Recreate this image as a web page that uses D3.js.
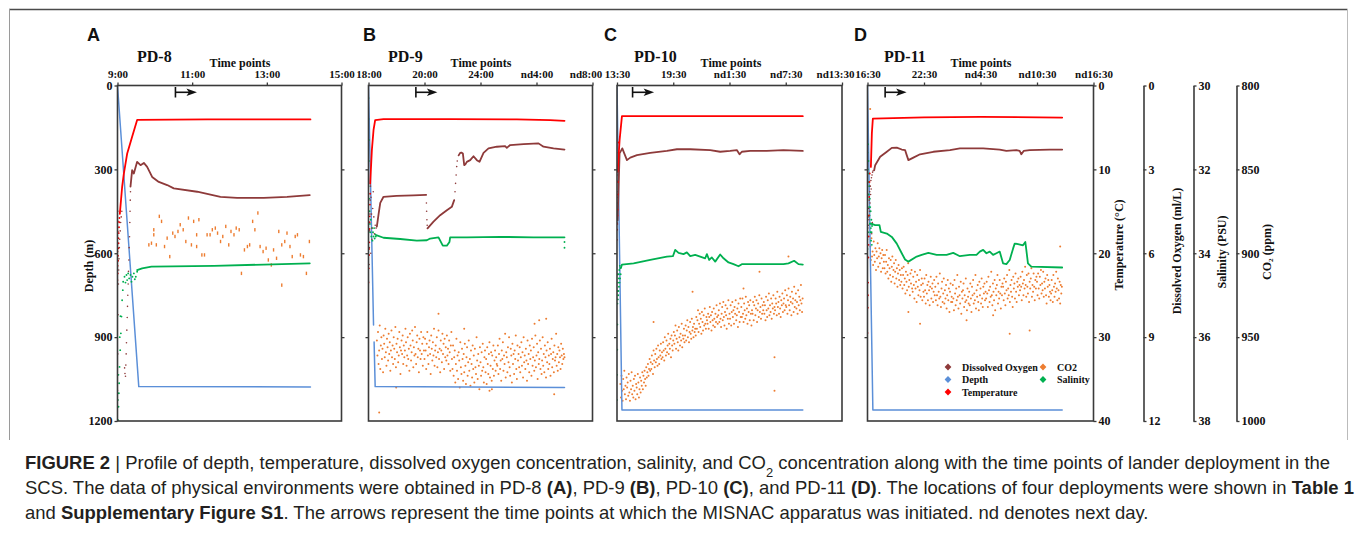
<!DOCTYPE html>
<html>
<head>
<meta charset="utf-8">
<script src="https://cdn.jsdelivr.net/npm/d3@7"></script>
<style>
  html, body { margin: 0; padding: 0; background: #fff; }
  svg { display: block; }
</style>
</head>
<body>
<svg id="chart" width="1357" height="542"></svg>
<script>
// ---------- Axis tick values ----------
const depthTicks = [0, 300, 600, 900, 1200];
const tempTicks = [0, 10, 20, 30, 40];
const oxygenTicks = [0, 3, 6, 9, 12];
const salinityTicks = [30, 32, 34, 36, 38];
const co2Ticks = [800, 850, 900, 950, 1000];

// Time-axis labels (x values below are in label-step units)
const pd8Ticks = ["9:00", "11:00", "13:00", "15:00"];
const pd9Ticks = ["18:00", "20:00", "24:00", "nd4:00", "nd8:00"];
const pd10Ticks = ["13:30", "19:30", "nd1:30", "nd7:30", "nd13:30"];
const pd11Ticks = ["16:30", "22:30", "nd4:30", "nd10:30", "nd16:30"];

// Time at which the MISNAC apparatus was started (label-step units)
const arrowTimes = [0.776, 0.846, 0.277, 0.312];

// ---------- PD-8 ----------
const pd8Depth = [[0, 0], [0.285, 1077], [2.584, 1078]];
const pd8Temp = [[0.031, 15.3], [0.062, 12.1], [0.085, 10.5], [0.13, 8.1], [0.196, 6.1], [0.263, 4.1], [1.2, 4.05], [2.584, 4.05]];
const pd8TempDots = [[0.0, 23.2], [0.002, 21.5], [0.004, 22.4], [0.006, 20.3], [0.008, 20.9], [0.01, 19.4], [0.012, 18.2], [0.014, 18.8], [0.017, 17.6], [0.02, 16.9], [0.023, 16.3], [0.026, 15.8], [0.0, 19.8], [0.003, 17.4], [0.005, 16.2], [0.001, 15.0]];
const pd8Oxygen = [[0.174, 3.62], [0.196, 3.03], [0.219, 3.15], [0.263, 2.73], [0.308, 2.85], [0.353, 2.77], [0.397, 2.91], [0.464, 3.27], [0.553, 3.45], [0.665, 3.56], [0.754, 3.68], [1.067, 3.80], [1.379, 3.98], [1.602, 4.02], [1.959, 4.02], [2.271, 3.98], [2.575, 3.92]];
const pd8OxygenDots = [[0.0, 10.9], [0.004, 9.6], [0.008, 8.2], [0.012, 7.1], [0.016, 6.6], [0.02, 6.2], [0.025, 5.8], [0.03, 5.5], [0.036, 5.2], [0.042, 4.9], [0.05, 4.7], [0.058, 4.5], [0.095, 10.1], [0.1, 10.3], [0.107, 10.4], [0.112, 10.0], [0.116, 9.6], [0.12, 9.2], [0.125, 8.75], [0.13, 8.3], [0.134, 7.9], [0.138, 7.5], [0.143, 7.1], [0.147, 6.65], [0.152, 6.24], [0.156, 5.8], [0.161, 5.41], [0.165, 4.9], [0.168, 4.5], [0.171, 4.1], [0.174, 3.8]];
const pd8Salinity = [[0.263, 34.40], [0.33, 34.36], [0.455, 34.32], [1.29, 34.30], [1.959, 34.27], [2.575, 34.24]];
const pd8SalinityDots = [[0.076, 34.68], [0.094, 34.56], [0.107, 34.70], [0.12, 34.52], [0.129, 34.64], [0.143, 34.48], [0.156, 34.60], [0.174, 34.52], [0.187, 34.68], [0.2, 34.56], [0.219, 34.48], [0.232, 34.62], [0.245, 34.56], [0.263, 34.44], [0.071, 34.88], [0.062, 35.12], [0.053, 35.51], [0.045, 35.91], [0.036, 36.31], [0.027, 36.71], [0.022, 37.10], [0.018, 37.34], [0.013, 37.66], [0.009, 37.98], [0.005, 37.5], [0.012, 36.9], [0.03, 36.0], [0.04, 35.5]];
const pd8Co2 = [[0.42, 895], [0.455, 894], [0.486, 886], [0.486, 889], [0.52, 895], [0.56, 878], [0.59, 881], [0.63, 896], [0.665, 891], [0.70, 902], [0.74, 888], [0.77, 890], [0.81, 887], [0.84, 883], [0.88, 886], [0.915, 893], [0.95, 879], [0.99, 895], [1.02, 881], [1.06, 889], [1.06, 896], [1.09, 880], [1.13, 901], [1.165, 901], [1.20, 889], [1.24, 889], [1.27, 886], [1.31, 885], [1.34, 888], [1.38, 893], [1.41, 890], [1.45, 884], [1.49, 895], [1.52, 887], [1.56, 889], [1.59, 885], [1.63, 886], [1.66, 912], [1.70, 898], [1.74, 896], [1.77, 895], [1.81, 881], [1.84, 886], [1.88, 876], [1.91, 896], [1.95, 899], [1.99, 897], [2.02, 904], [2.06, 907], [2.09, 898], [2.13, 903], [2.16, 887], [2.20, 895], [2.20, 919], [2.24, 893], [2.27, 888], [2.31, 896], [2.34, 902], [2.38, 890], [2.41, 889], [2.45, 901], [2.49, 902], [2.53, 912], [2.57, 893]];

// ---------- PD-9 ----------
const pd9Depth = [[0, 0], [0.09, 857], null, [0.10, 917], [0.119, 1077], [3.5, 1080]];
const pd9Temp = [[0.03, 11.7], [0.06, 7.7], [0.09, 5.3], [0.119, 4.13], [0.268, 4.01], [1.459, 4.01], [2.649, 4.05], [3.244, 4.13], [3.50, 4.21]];
const pd9TempDots = [[0.0, 23.5], [0.005, 21.8], [0.01, 20.2], [0.014, 18.7], [0.018, 17.1], [0.022, 15.6], [0.026, 14.2], [0.03, 12.9], [0.008, 19.5], [0.02, 16.3]];
const pd9Oxygen = [[0.149, 5.05], [0.18, 4.6], [0.21, 4.2], [0.268, 3.98], [0.5, 3.95], [0.8, 3.93], [1.03, 3.91], null, [1.054, 5.11], [1.161, 4.87], [1.28, 4.64], [1.399, 4.46], [1.488, 4.34], [1.53, 4.10], null, [1.61, 2.5], [1.637, 2.41], [1.66, 2.40], [1.685, 2.43], [1.709, 2.85], [1.73, 2.82], [1.756, 2.73], [1.816, 2.67], [1.875, 2.53], [1.935, 2.67], [1.982, 2.73], [2.054, 2.41], [2.143, 2.25], [2.292, 2.19], [2.44, 2.17], [2.47, 2.23], [2.53, 2.13], [2.768, 2.10], [3.036, 2.07], [3.125, 2.19], [3.304, 2.25], [3.50, 2.29]];
const pd9OxygenDots = [[0.0, 7.0], [0.01, 6.4], [0.015, 5.8], [0.02, 5.2], [0.025, 4.6], [0.03, 4.1], [0.035, 3.6], [0.045, 4.0], [0.055, 4.6], [0.065, 5.1], [0.075, 4.4], [0.085, 3.8], [0.095, 4.7], [0.105, 5.3], [0.12, 5.0], [0.135, 5.1], [0.04, 6.0], [0.06, 5.5], [1.034, 4.2], [1.038, 4.5], [1.043, 4.8], [1.048, 5.0], [1.545, 3.8], [1.555, 3.5], [1.565, 3.2], [1.575, 2.9], [1.585, 2.7]];
const pd9Salinity = [[0.137, 33.57], [0.268, 33.63], [0.566, 33.66], [0.863, 33.70], [1.042, 33.69], [1.101, 33.65], [1.25, 33.62], [1.292, 33.73], [1.327, 33.82], [1.399, 33.82], [1.446, 33.73], [1.458, 33.62], [1.756, 33.62], [2.352, 33.61], [2.947, 33.62], [3.50, 33.62]];
const pd9SalinityDots = [[0.0, 30.3], [0.0, 30.8], [0.005, 31.3], [0.005, 31.8], [0.0, 32.4], [0.01, 32.7], [0.02, 33.0], [0.025, 33.3], [0.03, 33.5], [0.04, 33.2], [0.05, 33.6], [0.06, 33.4], [0.07, 33.7], [0.08, 33.5], [0.09, 33.6], [0.1, 33.4], [0.11, 33.65], [0.12, 33.55], [0.13, 33.6], [3.5, 33.73], [3.5, 33.87]];
// CO2 logged every 0.01 label steps from pd9Co2Start
const pd9Co2Start = 0.15, pd9Co2Step = 0.01;
const pd9Co2 = [
  952, 961, 947, 966, 958, 943, 969, 955, 950, 963, 957, 971, 949, 954, 962, 945, 959, 967, 951, 956,
  964, 948, 960, 953, 970, 958, 946, 962, 955, 966, 950, 957, 963, 944, 968, 954, 959, 951, 965, 961,
  947, 956, 972, 958, 952, 960, 949, 966, 955, 962, 958, 945, 953, 967, 961, 950, 963, 957, 970, 948,
  955, 964, 959, 946, 952, 968, 956, 961, 944, 960, 966, 953, 949, 962, 957, 971, 951, 958, 963, 947,
  960, 954, 967, 950, 958,
  963, 951, 958, 969, 954, 947, 961, 966, 956, 952, 960, 972, 949, 957, 964, 953, 961, 945, 967, 958,
  955, 962, 950, 968, 959, 946, 963, 957, 971, 952, 958, 965, 948, 960, 954, 969, 951, 962, 956, 964,
  949, 961, 957, 966, 952, 959, 970, 955, 947, 963,
  969, 955, 973, 962, 958, 977, 966, 951, 970, 961, 975, 959, 964, 980, 953, 968, 972, 957, 963, 976,
  960, 971, 954, 967, 978, 962, 956, 973, 965, 952, 970, 963, 979, 958, 966, 974, 955, 969, 961, 977,
  957, 968, 972, 950, 964, 975, 960, 967, 981, 956, 965, 973, 959, 970, 954, 968, 977, 962, 958, 971,
  963, 978, 956, 966, 972, 960, 953, 974, 967, 959, 976, 961, 969, 955, 973, 964, 958, 970, 962, 966,
  967, 955, 972, 960, 951, 969, 964, 976, 958, 963, 953, 970, 961, 966, 948, 974, 959, 962, 971, 956,
  965, 950, 968, 973, 957, 961, 977, 954, 966, 960, 972, 958, 963, 949, 969, 975, 955, 964, 960, 968,
  956, 971, 962, 953, 967, 959, 974, 950, 965, 961, 969, 957, 964, 976, 952, 966, 960, 971, 955, 963,
  958, 973, 951, 967, 962, 956, 970, 964, 949, 968, 961, 954, 975, 959, 966, 963, 952, 969, 957, 972,
  964, 950, 967, 960, 971, 955, 962, 974, 958, 965, 953, 969, 961, 966, 957, 973, 960, 951, 968, 963,
  959, 971, 955, 964, 962, 948, 967, 960, 970, 956, 965, 958, 962, 969, 954, 961, 966, 957, 963, 960,
  962];
const pd9Co2Extra = [[0.191, 995], [0.494, 980], [1.25, 936], [2.161, 982], [2.203, 981], [3.048, 940], [3.173, 939], [3.316, 984], [1.709, 945], [2.965, 942]];

// ---------- PD-10 ----------
const pd10Depth = [[0, 0], [0.088, 1161], [3.303, 1161]];
const pd10Temp = [[0.011, 10.29], [0.046, 6.52], [0.088, 3.66], [3.303, 3.66]];
const pd10TempDots = [[0.0, 18.4], [0.005, 16.5], [0.01, 14.8], [0.013, 13.0], [0.016, 11.5], [0.02, 9.5], [0.024, 8.0], [0.028, 6.8], [0.003, 17.2], [0.008, 15.5]];
const pd10Oxygen = [[0.011, 4.82], [0.046, 2.43], [0.094, 2.25], [0.129, 2.43], [0.177, 2.67], [0.236, 2.58], [0.354, 2.49], [0.591, 2.41], [0.887, 2.34], [1.065, 2.28], [1.302, 2.28], [1.657, 2.31], [1.834, 2.37], [2.012, 2.34], [2.13, 2.31], [2.178, 2.46], [2.219, 2.37], [2.367, 2.34], [2.663, 2.34], [2.959, 2.31], [3.303, 2.34]];
const pd10OxygenDots = [[0.0, 4.9], [0.005, 4.6], [0.01, 4.2], [0.015, 3.8], [0.02, 3.4], [0.025, 3.0], [0.03, 2.8], [0.035, 2.6], [0.04, 2.45], [0.008, 4.0], [0.018, 3.2]];
const pd10Salinity = [[0.07, 34.35], [0.088, 34.27], [0.295, 34.24], [0.591, 34.16], [0.887, 34.08], [0.994, 34.07], [1.035, 33.92], [1.094, 33.99], [1.183, 34.02], [1.242, 33.98], [1.302, 34.07], [1.39, 34.04], [1.479, 34.08], [1.568, 34.12], [1.598, 34.02], [1.639, 34.16], [1.686, 34.10], [1.746, 34.20], [1.834, 34.03], [1.894, 34.12], [1.982, 34.22], [2.071, 34.26], [2.16, 34.31], [2.219, 34.26], [2.367, 34.26], [2.663, 34.26], [2.959, 34.26], [3.048, 34.24], [3.149, 34.18], [3.226, 34.26], [3.303, 34.27]];
const pd10SalinityDots = [[0.0, 37.5], [0.002, 36.9], [0.004, 36.3], [0.006, 35.7], [0.008, 35.2], [0.01, 34.9], [0.015, 35.1], [0.02, 34.7], [0.025, 34.9], [0.03, 34.5], [0.035, 34.8], [0.04, 34.4], [0.045, 34.7], [0.05, 34.3], [0.055, 34.6], [0.06, 34.35], [0.065, 34.5], [0.012, 34.5], [0.022, 35.0], [0.032, 34.6]];
const pd10Co2Start = 0.06, pd10Co2Step = 0.01;
const pd10Co2 = [
  978, 986, 973, 982, 988, 975, 981, 970, 984, 979, 987, 974, 980, 977, 985, 972, 983, 988, 976, 981,
  971, 984, 979, 986, 975, 982, 973, 987, 978, 980, 984, 972, 977, 986, 981, 974, 983, 976, 979, 971,
  981, 973, 977, 970, 975, 979, 968, 974, 971, 966, 973, 969, 963, 970, 965,
  969, 961, 966, 972, 958, 964, 968, 960, 965, 957, 963, 967, 955, 962, 966, 958, 961, 954, 963, 959,
  962, 953, 958, 964, 950, 957, 961, 952, 959, 955, 948, 960, 954, 957, 951, 962, 949, 955, 958, 952,
  947, 954, 949, 943, 957, 951, 946, 953, 958, 944, 950, 955, 948, 952, 942, 956, 949, 951, 945, 953,
  949, 943, 952, 946, 940, 950, 944, 953, 947, 941, 948, 951, 939, 946, 944, 950, 942, 947, 945, 949,
  938, 945, 940, 934, 947, 942, 936, 944, 939, 948, 935, 941, 946, 937, 943, 933, 942, 945, 938, 940,
  942, 936, 945, 938, 932, 941, 937, 946, 935, 940, 943, 933, 939, 944, 936, 941, 931, 938, 942, 937,
  934, 941, 930, 939, 944, 936, 932, 940, 929, 938, 943, 935, 931, 937, 945, 933, 939, 928, 942, 936,
  939, 931, 943, 935, 929, 938, 934, 942, 932, 936, 928, 940, 937, 933, 944, 930, 935, 941, 927, 938,
  932, 938, 927, 936, 941, 930, 934, 939, 926, 937, 933, 942, 929, 935, 931, 940, 928, 936, 943, 934,
  936, 929, 940, 931, 926, 937, 933, 928, 941, 934, 930, 938, 925, 935, 932, 939, 927, 936, 931, 934,
  929, 936, 931, 940, 926, 934, 938, 928, 933, 924, 937, 931, 935, 927, 939, 930, 933, 925, 936, 932,
  934, 927, 930, 937, 923, 932, 929, 936, 926, 933, 938, 928, 931, 924, 935, 930, 927, 934, 922, 931,
  932, 925, 936, 928, 921, 931, 934, 926, 929, 937, 923, 930, 927, 935, 920, 932, 928, 924, 933, 929,
  936, 922, 931, 926, 934, 928, 919, 930, 935, 927];
const pd10Co2Extra = [[0.0, 802], [0.0, 806], [0.65, 941], [1.343, 923], [2.249, 921], [2.533, 911], [2.80, 962], [2.80, 982], [3.048, 902]];

// ---------- PD-11 ----------
const pd11Depth = [[0, 0], [0.095, 1161], [3.446, 1161]];
const pd11Temp = [[0.06, 9.7], [0.077, 5.72], [0.095, 3.94], [1.0, 3.80], [2.0, 3.74], [3.446, 3.82]];
const pd11TempDots = [[0.0, 29.5], [0.005, 26.5], [0.01, 23.5], [0.015, 20.5], [0.02, 18], [0.025, 15.5], [0.03, 13.3], [0.035, 11.5], [0.04, 10.5], [0.008, 25], [0.018, 19]];
const pd11Oxygen = [[0.118, 3.03], [0.136, 2.85], [0.224, 2.55], [0.342, 2.37], [0.43, 2.23], [0.518, 2.22], [0.606, 2.29], [0.665, 2.31], [0.694, 2.49], [0.724, 2.67], [0.812, 2.58], [0.93, 2.46], [1.165, 2.37], [1.459, 2.31], [1.635, 2.25], [2.047, 2.25], [2.34, 2.29], [2.458, 2.34], [2.634, 2.31], [2.693, 2.34], [2.723, 2.46], [2.764, 2.34], [2.87, 2.31], [3.222, 2.29], [3.446, 2.29]];
const pd11OxygenDots = [[0.0, 5.5], [0.005, 5.1], [0.01, 4.7], [0.015, 5.0], [0.02, 4.4], [0.025, 4.8], [0.03, 4.1], [0.035, 4.5], [0.04, 3.8], [0.045, 4.2], [0.05, 3.6], [0.055, 3.9], [0.06, 3.4], [0.065, 3.7], [0.07, 3.3], [0.075, 5.3], [0.08, 3.2], [0.085, 4.9], [0.09, 3.1], [0.1, 3.05]];
const pd11Salinity = [[0.048, 33.29], [0.136, 33.33], [0.212, 33.33], [0.236, 33.49], [0.342, 33.53], [0.43, 33.61], [0.518, 33.77], [0.606, 34.00], [0.665, 34.15], [0.724, 34.20], [0.871, 34.08], [0.959, 34.04], [1.077, 33.99], [1.224, 34.04], [1.40, 34.04], [1.517, 33.99], [1.635, 34.07], [1.811, 34.04], [1.929, 34.04], [1.988, 33.96], [2.047, 33.92], [2.105, 34.00], [2.164, 33.96], [2.223, 34.04], [2.282, 34.00], [2.34, 33.96], [2.399, 34.24], [2.458, 34.26], [2.517, 34.16], [2.576, 33.89], [2.605, 33.77], [2.664, 33.78], [2.752, 33.81], [2.793, 33.73], [2.811, 33.92], [2.84, 34.24], [2.899, 34.32], [3.446, 34.34]];
const pd11SalinityDots = [[0.0, 31.6], [0.004, 32.0], [0.008, 31.4], [0.012, 32.3], [0.016, 31.8], [0.02, 32.6], [0.024, 32.1], [0.028, 32.9], [0.032, 32.4], [0.036, 33.1], [0.04, 32.7], [0.044, 33.3], [0.048, 32.9], [0.052, 33.5], [0.056, 33.0], [0.06, 33.4], [0.064, 33.7], [0.068, 33.2], [0.072, 33.5], [0.076, 33.8], [0.08, 33.35], [0.085, 33.3], [0.0, 33.9], [0.01, 33.5]];
const pd11Co2Start = 0.05, pd11Co2Step = 0.01;
const pd11Co2 = [
  896, 904, 891, 902, 899, 907, 893, 901, 905, 897, 910, 899, 903, 894, 908, 902, 897, 906, 900, 911,
  903, 898, 909, 901, 905,
  909, 901, 912, 905, 898, 911, 907, 915, 903, 909, 913, 904, 917, 908, 902, 914, 910, 906, 918, 911,
  904, 915, 909, 920, 912, 907, 916, 910, 919, 913,
  917, 909, 921, 913, 908, 919, 915, 924, 911, 917, 922, 913, 906, 920, 916, 925, 912, 918, 910, 921,
  923, 914, 919, 927, 911, 921, 917, 929, 913, 920, 925, 916, 922, 910, 926, 919, 915, 928, 918, 923,
  926, 915, 922, 930, 913, 924, 919, 928, 917, 922, 931, 920, 914, 927, 921, 918, 929, 923, 916, 925,
  920, 928, 914, 925, 931, 918, 923, 927, 912, 926, 932, 921, 917, 929, 924, 915, 930, 922, 927, 919,
  933, 925, 916, 928, 921, 935, 923, 918, 929, 926,
  929, 919, 927, 934, 916, 924, 931, 921, 928, 913, 926, 933, 920, 925, 930, 917, 936, 923, 927, 922,
  918, 932, 925, 929, 915, 928, 934, 921, 926, 930,
  923, 931, 918, 927, 935, 920, 925, 916, 930, 924, 928, 913, 933, 922, 926, 919, 929, 934, 917, 925,
  921, 930, 915, 927, 932, 920, 924, 918, 928, 923,
  927, 917, 924, 932, 914, 922, 929, 920, 926, 911, 925, 931, 918, 923, 928, 916, 934, 921, 925, 919,
  913, 930, 923, 927, 916, 924, 933, 920, 925, 918,
  920, 928, 915, 924, 931, 917, 922, 913, 927, 921, 925, 910, 929, 919, 923, 916, 926, 932, 914, 921,
  918, 927, 912, 923, 929, 917, 920, 915, 925, 919,
  922, 914, 920, 928, 911, 918, 925, 916, 921, 908, 919, 926, 913, 920, 924, 912, 929, 917, 921, 915,
  909, 926, 919, 923, 912, 920, 928, 916, 921, 914,
  917, 925, 912, 921, 927, 914, 919, 910, 924, 918, 922, 911, 926, 917, 921, 915, 925, 930, 913, 920,
  916, 926, 919, 923, 928,
  924, 916, 922, 929, 913, 920, 926, 918, 923, 911, 921, 928, 915, 922, 927, 917, 930, 919, 924, 920];
const pd11Co2Extra = [[0.048, 814], [0.93, 942], [2.517, 948], [2.87, 946], [3.41, 896], [0.724, 935], [1.753, 940], [2.223, 937]];

// ---------- Caption ----------
const captionLines = [
  [["FIGURE 2", "b"], [" | ", ""], ["Profile of depth, temperature, dissolved oxygen concentration, salinity, and CO", ""], ["2", "sub"], [" concentration along with the time points of lander deployment in the", ""]],
  [["SCS. The data of physical environments were obtained in PD-8 ", ""], ["(A)", "b"], [", PD-9 ", ""], ["(B)", "b"], [", PD-10 ", ""], ["(C)", "b"], [", and PD-11 ", ""], ["(D)", "b"], [". The locations of four deployments were shown in ", ""], ["Table 1", "b"]],
  [["and ", ""], ["Supplementary Figure S1", "b"], [". The arrows represent the time points at which the MISNAC apparatus was initiated. nd denotes next day.", ""]]
];

// ---------- Legend ----------
const legendItems = [
  { label: "Dissolved Oxygen", key: "oxygen", col: 0, row: 0 },
  { label: "Depth", key: "depth", col: 0, row: 1 },
  { label: "Temperature", key: "temp", col: 0, row: 2 },
  { label: "CO2", key: "co2", col: 1, row: 0 },
  { label: "Salinity", key: "salinity", col: 1, row: 1 }
];

// ---------- Drawing ----------
const colors = { oxygen: "#8E3A3A", depth: "#5B8FD8", temp: "#FF0000", co2: "#ED7D31", salinity: "#00B050" };
const serif = "'Liberation Serif','Times New Roman',Times,serif";
const sans = "'Liberation Sans',Arial,Helvetica,sans-serif";
const axisColor = "#3a3a3a";

const svg = d3.select("#chart");
const yTop = 85.5, yBot = 421;
const yDepth = d3.scaleLinear().domain([0, 1200]).range([yTop, yBot]);
const yTemp = d3.scaleLinear().domain([0, 40]).range([yTop, yBot]);
const yOxygen = d3.scaleLinear().domain([0, 12]).range([yTop, yBot]);
const ySalinity = d3.scaleLinear().domain([30, 38]).range([yTop, yBot]);
const yCo2 = d3.scaleLinear().domain([800, 1000]).range([yTop, yBot]);

// Outer figure frame (top and sides)
svg.append("line").attr("x1", 9).attr("x2", 1347.5).attr("y1", 9.5).attr("y2", 9.5).attr("stroke", "#4a4a4a").attr("stroke-width", 1.5);
svg.append("line").attr("x1", 9.5).attr("x2", 9.5).attr("y1", 9).attr("y2", 440).attr("stroke", "#9a9a9a").attr("stroke-width", 1);
svg.append("line").attr("x1", 1347.5).attr("x2", 1347.5).attr("y1", 9).attr("y2", 440).attr("stroke", "#bbbbbb").attr("stroke-width", 1);

const cloud = (start, step, vals) => vals.map((v, i) => [start + i * step, v]);

const panels = [
  { letter: "A", name: "PD-8", x0: 117.5, x1: 341.5, letterX: 87, nameX: 137, titleX: 240, lastShift: 0, ticks: pd8Ticks,
    depth: pd8Depth, temp: pd8Temp, tempDots: pd8TempDots, oxygen: pd8Oxygen, oxygenDots: pd8OxygenDots,
    salinity: pd8Salinity, salinityDots: pd8SalinityDots, co2: pd8Co2, co2Extra: [], sparse: true },
  { letter: "B", name: "PD-9", x0: 368.5, x1: 592.5, letterX: 363, nameX: 388, titleX: 481, lastShift: -7, ticks: pd9Ticks,
    depth: pd9Depth, temp: pd9Temp, tempDots: pd9TempDots, oxygen: pd9Oxygen, oxygenDots: pd9OxygenDots,
    salinity: pd9Salinity, salinityDots: pd9SalinityDots, co2: cloud(pd9Co2Start, pd9Co2Step, pd9Co2), co2Extra: pd9Co2Extra },
  { letter: "C", name: "PD-10", x0: 617, x1: 842, letterX: 604, nameX: 634, titleX: 731, lastShift: -7, ticks: pd10Ticks,
    depth: pd10Depth, temp: pd10Temp, tempDots: pd10TempDots, oxygen: pd10Oxygen, oxygenDots: pd10OxygenDots,
    salinity: pd10Salinity, salinityDots: pd10SalinityDots, co2: cloud(pd10Co2Start, pd10Co2Step, pd10Co2), co2Extra: pd10Co2Extra },
  { letter: "D", name: "PD-11", x0: 867.5, x1: 1093.5, letterX: 854, nameX: 884, titleX: 981, lastShift: 0, ticks: pd11Ticks,
    depth: pd11Depth, temp: pd11Temp, tempDots: pd11TempDots, oxygen: pd11Oxygen, oxygenDots: pd11OxygenDots,
    salinity: pd11Salinity, salinityDots: pd11SalinityDots, co2: cloud(pd11Co2Start, pd11Co2Step, pd11Co2), co2Extra: pd11Co2Extra }
];

function styleAxis(g, size) {
  g.select(".domain").remove();
  g.selectAll(".tick line").attr("stroke", axisColor).attr("stroke-width", 1.3);
  g.selectAll(".tick text").attr("font-family", serif).attr("font-weight", "bold")
    .attr("font-size", size || 12).attr("fill", "#111");
}

panels.forEach((p, idx) => {
  const last = idx === panels.length - 1;
  const x = d3.scaleLinear().domain([0, p.ticks.length - 1]).range([p.x0, p.x1]);
  const g = svg.append("g");

  // Headings
  g.append("text").attr("x", p.letterX).attr("y", 41).text(p.letter)
    .attr("font-family", sans).attr("font-weight", "bold").attr("font-size", 18).attr("fill", "#111");
  g.append("text").attr("x", p.nameX).attr("y", 62).text(p.name)
    .attr("font-family", serif).attr("font-weight", "bold").attr("font-size", 16).attr("fill", "#111");
  g.append("text").attr("x", p.titleX).attr("y", 67).attr("text-anchor", "middle").text("Time points")
    .attr("font-family", serif).attr("font-weight", "bold").attr("font-size", 12).attr("fill", "#111");

  // Plot contents, clipped to the frame
  const clipId = "clip" + idx;
  svg.append("clipPath").attr("id", clipId).append("rect")
    .attr("x", p.x0).attr("y", yTop).attr("width", p.x1 - p.x0).attr("height", yBot - yTop);
  const plot = g.append("g").attr("clip-path", `url(#${clipId})`);

  const pathFor = (data, ys, color, width) => {
    plot.append("path").datum(data)
      .attr("d", d3.line().defined(d => d !== null).x(d => x(d[0])).y(d => ys(d[1])))
      .attr("fill", "none").attr("stroke", color).attr("stroke-width", width)
      .attr("stroke-linejoin", "round").attr("stroke-linecap", "round");
  };
  const dotsFor = (data, ys, color, r) => {
    plot.append("g").selectAll("circle").data(data).join("circle")
      .attr("cx", d => x(d[0])).attr("cy", d => ys(d[1])).attr("r", r).attr("fill", color);
  };

  // CO2 samples: short dashes on the sparse record, fine specks elsewhere
  const co2All = p.co2.concat(p.co2Extra);
  if (p.sparse) {
    plot.append("g").selectAll("rect").data(co2All).join("rect")
      .attr("x", d => x(d[0]) - 0.7).attr("y", d => yCo2(d[1]) - 1.7)
      .attr("width", 1.4).attr("height", 3.4).attr("fill", colors.co2);
  } else {
    dotsFor(co2All, yCo2, colors.co2, 1.0);
  }

  pathFor(p.depth, yDepth, colors.depth, 1.5);
  dotsFor(p.salinityDots, ySalinity, colors.salinity, 0.95);
  pathFor(p.salinity, ySalinity, colors.salinity, 1.8);
  dotsFor(p.oxygenDots, yOxygen, colors.oxygen, 0.8);
  pathFor(p.oxygen, yOxygen, colors.oxygen, 1.8);
  dotsFor(p.tempDots, yTemp, colors.temp, 0.95);
  pathFor(p.temp, yTemp, colors.temp, 1.8);

  // Frame
  g.append("rect").attr("x", p.x0).attr("y", yTop).attr("width", p.x1 - p.x0).attr("height", yBot - yTop)
    .attr("fill", "none").attr("stroke", axisColor).attr("stroke-width", 1.6);

  // Top time axis
  const top = g.append("g").attr("transform", `translate(0,${yTop})`)
    .call(d3.axisTop(x).tickValues(d3.range(p.ticks.length)).tickFormat(i => p.ticks[i]).tickSize(3).tickPadding(4.5));
  styleAxis(top, 11);
  top.selectAll(".tick text").filter(i => i === p.ticks.length - 1).attr("dx", p.lastShift);

  // Left depth ticks (labelled on the first panel)
  const left = g.append("g").attr("transform", `translate(${p.x0},0)`)
    .call(d3.axisLeft(yDepth).tickValues(idx === 0 ? depthTicks : [300, 600, 900])
      .tickFormat(idx === 0 ? d3.format("d") : () => "").tickSize(3).tickPadding(2));
  styleAxis(left, 12);

  // Right side: plain ticks, or the temperature scale on the last panel
  if (!last) {
    const right = g.append("g").attr("transform", `translate(${p.x1},0)`)
      .call(d3.axisRight(yDepth).tickValues([300, 600, 900]).tickFormat(() => "").tickSize(3));
    styleAxis(right);
  } else {
    const right = g.append("g").attr("transform", `translate(${p.x1},0)`)
      .call(d3.axisRight(yTemp).tickValues(tempTicks).tickFormat(d3.format("d")).tickSize(3).tickPadding(2));
    styleAxis(right, 12);
  }

  // Start arrow
  const ax = x(arrowTimes[idx]);
  g.append("line").attr("x1", ax).attr("x2", ax).attr("y1", 87).attr("y2", 97.5)
    .attr("stroke", "#111").attr("stroke-width", 1.6);
  g.append("line").attr("x1", ax).attr("x2", ax + 14).attr("y1", 92.3).attr("y2", 92.3)
    .attr("stroke", "#111").attr("stroke-width", 1.6);
  g.append("path").attr("d", `M${ax + 21.5},92.3 L${ax + 11},88.6 L${ax + 13.5},92.3 L${ax + 11},96 Z`).attr("fill", "#111");
});

// Depth title
svg.append("text").attr("transform", "translate(93,266) rotate(-90)").attr("text-anchor", "middle")
  .attr("font-family", serif).attr("font-weight", "bold").attr("font-size", 12).attr("fill", "#111").text("Depth (m)");

// Additional stacked right-hand scales
const extraAxes = [
  { x: 1143.5, scale: yOxygen, ticks: oxygenTicks },
  { x: 1193.5, scale: ySalinity, ticks: salinityTicks },
  { x: 1236.5, scale: yCo2, ticks: co2Ticks }
];
extraAxes.forEach(a => {
  const g = svg.append("g").attr("transform", `translate(${a.x},0)`)
    .call(d3.axisRight(a.scale).tickValues(a.ticks).tickFormat(d3.format("d")).tickSize(3).tickPadding(2).tickSizeOuter(0));
  g.select(".domain").attr("stroke", axisColor).attr("stroke-width", 1.6);
  g.selectAll(".tick line").attr("stroke", axisColor).attr("stroke-width", 1.3);
  g.selectAll(".tick text").attr("font-family", serif).attr("font-weight", "bold").attr("font-size", 12).attr("fill", "#111");
});

const axisTitles = [
  { x: 1119, y: 245, text: "Temperature (\u00B0C)" },
  { x: 1177, y: 251, text: "Dissolved Oxygen (ml/L)" },
  { x: 1222, y: 252, text: "Salinity (PSU)" },
  { x: 1267, y: 252, text: "CO\u2082 (ppm)" }
];
axisTitles.forEach(t => {
  svg.append("text").attr("transform", `translate(${t.x},${t.y}) rotate(-90)`)
    .attr("text-anchor", "middle").attr("dominant-baseline", "central")
    .attr("font-family", serif).attr("font-weight", "bold").attr("font-size", 12).attr("fill", "#111").text(t.text);
});

// Legend
const legend = svg.append("g").attr("transform", "translate(948,367)");
legendItems.forEach(it => {
  const lx = it.col * 95, ly = it.row * 12.5;
  legend.append("rect").attr("x", lx - 2.4).attr("y", ly - 2.4).attr("width", 4.8).attr("height", 4.8)
    .attr("transform", `rotate(45,${lx},${ly})`).attr("fill", colors[it.key]);
  legend.append("text").attr("x", lx + 14).attr("y", ly + 3.5).text(it.label)
    .attr("font-family", serif).attr("font-weight", "bold").attr("font-size", 10).attr("fill", "#111");
});

// Caption
const cap = svg.append("g");
const capY = [469, 494, 519];
const capNodes = captionLines.map((segs, i) => {
  const t = cap.append("text").attr("x", 25).attr("y", capY[i])
    .attr("font-family", sans).attr("font-size", 17).attr("fill", "#231f20");
  segs.forEach(([s, kind]) => {
    const ts = t.append("tspan").text(s);
    if (kind === "b") ts.attr("font-weight", "bold");
    if (kind === "sub") ts.attr("font-size", 12).attr("baseline-shift", "sub");
  });
  return t;
});
const w0 = capNodes[0].node().getComputedTextLength();
const capSize = 17 * 1306 / w0;
capNodes.forEach(t => {
  t.attr("font-size", capSize);
  t.selectAll("tspan").filter(function () { return this.getAttribute("baseline-shift") === "sub"; })
    .attr("font-size", capSize * 0.7);
});
</script>
</body>
</html>
